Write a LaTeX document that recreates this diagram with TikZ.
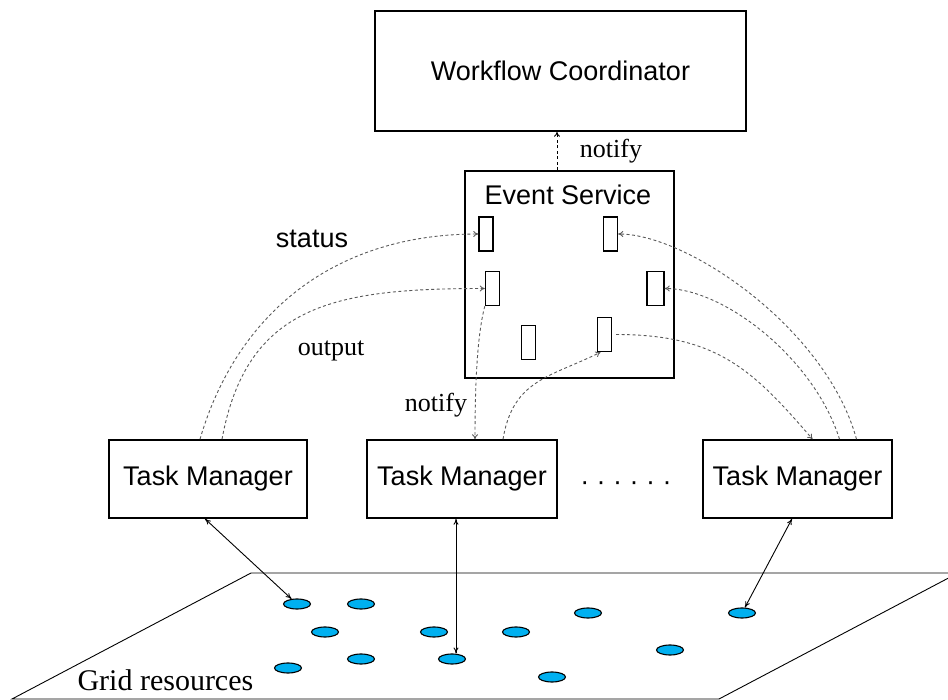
\documentclass[tikz,border=0pt]{standalone}
\usepackage{fontspec}
\setmainfont{Liberation Serif}
\setsansfont{Liberation Sans}
\usetikzlibrary{arrows.meta,shapes.geometric}
\definecolor{resblue}{RGB}{0,176,240}
\begin{document}
\begin{tikzpicture}[x=1pt,y=-1pt,
  box/.style={draw, line width=1.6pt, inner sep=0pt, font=\sffamily\fontsize{27}{30}\selectfont},
  slot/.style={draw, line width=1.4pt, minimum width=14pt, minimum height=34pt, inner sep=0pt},
  res/.style={ellipse, draw, line width=1.1pt, fill=resblue, minimum width=27pt, minimum height=10pt, inner sep=0pt},
  msg/.style={draw=black!65, line width=0.9pt, dash pattern=on 3pt off 2.5pt, -{To[length=5pt,width=6pt]}},
  link/.style={draw, line width=0.9pt, {To[length=6pt,width=5pt]}-{To[length=6pt,width=5pt]}},
  lbl/.style={font=\fontsize{26}{28}\selectfont},
  slbl/.style={font=\sffamily\fontsize{27}{30}\selectfont}]
\useasboundingbox (0,0) rectangle (948,700);

% grid plane
\draw[line width=0.9pt] (251,573) -- (958,573) -- (719,699) -- (12,699) -- cycle;
\node[font=\fontsize{30}{32}\selectfont, anchor=west] (gridlbl) at (74,680) {Grid resources};

% resources
\node[res] (e1) at (297,604) {};
\node[res] (e2) at (361,604) {};
\node[res] (e3) at (325,632) {};
\node[res] (e4) at (434,632) {};
\node[res] (e5) at (516,632) {};
\node[res] (e6) at (588,613) {};
\node[res] (e7) at (742,613) {};
\node[res] (e8) at (361,659) {};
\node[res] (e9) at (452,659) {};
\node[res] (e10) at (288,668) {};
\node[res] (e11) at (670,650) {};
\node[res] (e12) at (552,677) {};

% components
\node[box, minimum width=371pt, minimum height=120pt] (wc) at (560.5,71) {Workflow Coordinator};
\node[box, minimum width=209pt, minimum height=207pt] (es) at (569.5,274.5) {};
\node[slbl] (estitle) at (568,195) {Event Service};
\node[slot] (r1) at (486,234) {};
\node[slot] (r2) at (492.5,288.5) {};
\node[slot] (r3) at (528.5,342.5) {};
\node[slot] (r4) at (604.5,334.5) {};
\node[slot] (r5) at (610.5,234) {};
\node[slot, minimum width=17pt] (r6) at (655.5,288.5) {};

\node[box, minimum width=198pt, minimum height=78pt] (tm1) at (208,479) {Task Manager};
\node[box, minimum width=190pt, minimum height=78pt] (tm2) at (462,479) {Task Manager};
\node[box, minimum width=189pt, minimum height=78pt] (tm3) at (797.5,479) {Task Manager};
\node[slbl, anchor=base] (dots) at (626,490) {· · · · · ·};

% event notifications
\draw[msg, draw=black] ([xshift=-12.5pt]es.north) -- ([xshift=-3.5pt]wc.south);
\node[lbl] (n1) at (611,151) {notify};

\draw[msg] ([xshift=-8pt]tm1.north) .. controls +(35,-120) and +(-150,0) .. (r1.west);
\node[slbl] (stat) at (312,239) {status};
\draw[msg] ([xshift=14pt]tm1.north) .. controls +(25,-135) and +(-150,0) .. (r2.west);
\node[lbl] (outp) at (331,351) {output};

\draw[msg] (r2.south west) .. controls +(-8,30) and +(0,-50) .. ([xshift=13pt]tm2.north);
\node[lbl] (n2) at (436,405) {notify};
\draw[msg] ([xshift=41pt]tm2.north) .. controls +(10,-60) and +(-50,25) .. ([xshift=-4pt]r4.south);
\draw[msg] ([xshift=4pt]r4.east) .. controls +(100,0) and +(-60,-70) .. ([xshift=15pt]tm3.north);
\draw[msg] ([xshift=42pt]tm3.north) .. controls +(-25,-80) and +(60,0) .. (r6.east);
\draw[msg] ([xshift=59pt]tm3.north) .. controls +(-30,-110) and +(70,0) .. (r5.east);

% resource access
\draw[link] ([xshift=-3pt]tm1.south) -- (e1);
\draw[link] ([xshift=-6pt]tm2.south) -- ([xshift=4pt]e9.north);
\draw[link] ([xshift=-5.5pt]tm3.south) -- (e7);
\end{tikzpicture}
\end{document}
